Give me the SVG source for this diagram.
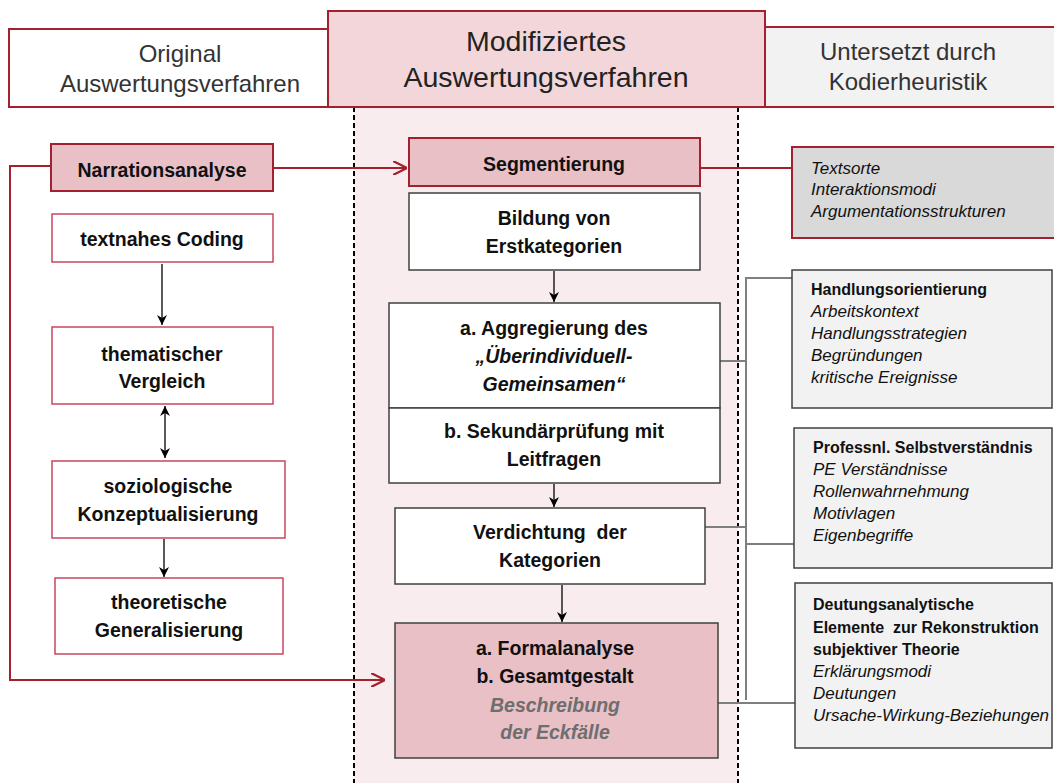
<svg xmlns="http://www.w3.org/2000/svg" width="1054" height="783" viewBox="0 0 1054 783">
<defs>
<style>
.hdr{font-family:"Liberation Sans",Arial,sans-serif;font-size:24px;fill:#333;text-anchor:middle}
.hdrm{font-family:"Liberation Sans",Arial,sans-serif;font-size:28.5px;fill:#222;text-anchor:middle}
.b{font-family:"Liberation Sans",Arial,sans-serif;font-size:19.5px;font-weight:bold;fill:#111;text-anchor:middle}
.bi{font-style:italic}
.gi{font-family:"Liberation Sans",Arial,sans-serif;font-size:19.5px;font-weight:bold;font-style:italic;fill:#6e6e6e;text-anchor:middle}
.r{font-family:"Liberation Sans",Arial,sans-serif;font-size:17px;fill:#111}
.rb{font-weight:bold;font-size:16px}
.ri{font-style:italic}
.redbox{stroke:#A3202F;stroke-width:2}
.lbox{fill:#fff;stroke:#C9465E;stroke-width:1.5}
.gbox{stroke:#404040;stroke-width:1.5}
.pink{fill:#E8C0C6}
.conn{fill:none;stroke:#000;stroke-width:1.3}
.redc{fill:none;stroke:#A3202F;stroke-width:2}
.grayc{fill:none;stroke:#7f7f7f;stroke-width:2}
</style>
<marker id="ah" viewBox="0 0 10 10" refX="10" refY="5" markerWidth="10" markerHeight="10" markerUnits="userSpaceOnUse" orient="auto-start-reverse">
<path d="M0,0 L10,5 L0,10 L3,5 Z" fill="#000"/>
</marker>
<marker id="ahr" viewBox="0 0 10 10" refX="10" refY="5" markerWidth="14" markerHeight="14" markerUnits="userSpaceOnUse" orient="auto">
<path d="M0,0 L10,5 L0,10" fill="none" stroke="#A3202F" stroke-width="1.6"/>
</marker>
</defs>
<rect x="0" y="0" width="1054" height="783" fill="#fff"/>
<rect x="354" y="107" width="384" height="676" fill="#F8ECEE"/>
<g id="dashes">
<line x1="354" y1="107" x2="354" y2="783" stroke="#000" stroke-width="2" stroke-dasharray="5,3"/>
<line x1="738" y1="107" x2="738" y2="783" stroke="#000" stroke-width="2" stroke-dasharray="5,3"/>
</g>
<g id="hdr-left">
<rect x="9" y="29" width="319" height="78" fill="#fff" class="redbox"/>
<text class="hdr" x="180" y="62">Original</text>
<text class="hdr" x="180" y="92">Auswertungsverfahren</text>
</g>
<g id="hdr-right">
<rect x="765" y="27" width="295" height="80" fill="#F2F2F2" class="redbox"/>
<text class="hdr" x="908" y="60">Untersetzt durch</text>
<text class="hdr" x="908" y="90">Kodierheuristik</text>
</g>
<g id="hdr-mid">
<rect x="328" y="11" width="437" height="96" fill="#F2D6DA" class="redbox"/>
<text class="hdrm" x="546" y="51">Modifiziertes</text>
<text class="hdrm" x="546" y="87">Auswertungsverfahren</text>
</g>
<g id="connectors">
<line class="conn" x1="162" y1="264" x2="162" y2="325" marker-end="url(#ah)"/>
<line class="conn" x1="165" y1="406" x2="165" y2="458" marker-start="url(#ah)" marker-end="url(#ah)"/>
<line class="conn" x1="164" y1="539" x2="164" y2="577" marker-end="url(#ah)"/>
<line class="conn" x1="554" y1="271" x2="554" y2="302" marker-end="url(#ah)"/>
<line class="conn" x1="554" y1="484" x2="554" y2="507" marker-end="url(#ah)"/>
<line class="conn" x1="562" y1="585" x2="562" y2="622" marker-end="url(#ah)"/>
<path class="redc" d="M273,168 H407" marker-end="url(#ahr)"/>
<path class="redc" d="M51,166 H10 V680 H385" marker-end="url(#ahr)"/>
<path class="redc" d="M700,168 H792"/>
<path class="grayc" d="M792,278 H746 V700"/>
<path class="grayc" d="M720,361 H746"/>
<path class="grayc" d="M705,527 H746"/>
<path class="grayc" d="M746,544 H794"/>
<path class="grayc" d="M718,703 H795"/>
</g>
<g id="narration">
<rect x="51" y="144" width="222" height="47" class="pink redbox"/>
<text class="b" x="162" y="177">Narrationsanalyse</text>
</g>
<g id="textnahes">
<rect x="52" y="214" width="221" height="48" class="lbox"/>
<text class="b" x="162" y="246">textnahes Coding</text>
</g>
<g id="thematisch">
<rect x="52" y="327" width="221" height="77" class="lbox"/>
<text class="b" x="162" y="361">thematischer</text>
<text class="b" x="162" y="388">Vergleich</text>
</g>
<g id="soziologisch">
<rect x="52" y="461" width="233" height="77" class="lbox"/>
<text class="b" x="168" y="493">soziologische</text>
<text class="b" x="168" y="521">Konzeptualisierung</text>
</g>
<g id="theoretisch">
<rect x="55" y="578" width="228" height="76" class="lbox"/>
<text class="b" x="169" y="609">theoretische</text>
<text class="b" x="169" y="637">Generalisierung</text>
</g>
<g id="segmentierung">
<rect x="409" y="138" width="291" height="48" class="pink redbox"/>
<text class="b" x="554" y="171">Segmentierung</text>
</g>
<g id="bildung">
<rect x="409" y="193" width="291" height="77" fill="#fff" class="gbox"/>
<text class="b" x="554" y="225">Bildung von</text>
<text class="b" x="554" y="253">Erstkategorien</text>
</g>
<g id="aggregierung">
<rect x="389" y="303" width="331" height="105" fill="#fff" class="gbox"/>
<text class="b" x="554" y="335">a. Aggregierung des</text>
<text class="b bi" x="554" y="363">„Überindividuell-</text>
<text class="b bi" x="554" y="391">Gemeinsamen“</text>
</g>
<g id="sekundaer">
<rect x="389" y="408" width="331" height="75" fill="#fff" class="gbox"/>
<text class="b" x="554" y="438">b. Sekundärprüfung mit</text>
<text class="b" x="554" y="466">Leitfragen</text>
</g>
<g id="verdichtung">
<rect x="395" y="508" width="310" height="76" fill="#fff" class="gbox"/>
<text class="b" x="550" y="539" xml:space="preserve">Verdichtung  der</text>
<text class="b" x="550" y="567">Kategorien</text>
</g>
<g id="formal">
<rect x="395" y="623" width="323" height="135" class="pink gbox"/>
<text class="b" x="555" y="655">a. Formalanalyse</text>
<text class="b" x="555" y="683">b. Gesamtgestalt</text>
<text class="gi" x="555" y="712">Beschreibung</text>
<text class="gi" x="555" y="739">der Eckfälle</text>
</g>
<g id="textsorte">
<rect x="792" y="147" width="270" height="91" fill="#D9D9D9" class="redbox"/>
<text class="r ri" x="811" y="174">Textsorte</text>
<text class="r ri" x="811" y="195">Interaktionsmodi</text>
<text class="r ri" x="811" y="217">Argumentationsstrukturen</text>
</g>
<g id="handlung">
<rect x="792" y="270" width="260" height="138" fill="#F2F2F2" class="gbox"/>
<text class="r rb" x="811" y="295">Handlungsorientierung</text>
<text class="r ri" x="811" y="317">Arbeitskontext</text>
<text class="r ri" x="811" y="339">Handlungsstrategien</text>
<text class="r ri" x="811" y="361">Begründungen</text>
<text class="r ri" x="811" y="383">kritische Ereignisse</text>
</g>
<g id="professnl">
<rect x="794" y="428" width="258" height="140" fill="#F2F2F2" class="gbox"/>
<text class="r rb" x="813" y="453">Professnl. Selbstverständnis</text>
<text class="r ri" x="813" y="475">PE Verständnisse</text>
<text class="r ri" x="813" y="497">Rollenwahrnehmung</text>
<text class="r ri" x="813" y="519">Motivlagen</text>
<text class="r ri" x="813" y="541">Eigenbegriffe</text>
</g>
<g id="deutung">
<rect x="795" y="583" width="257" height="165" fill="#F2F2F2" class="gbox"/>
<text class="r rb" x="813" y="610">Deutungsanalytische</text>
<text class="r rb" x="813" y="633" xml:space="preserve">Elemente  zur Rekonstruktion</text>
<text class="r rb" x="813" y="655">subjektiver Theorie</text>
<text class="r ri" x="813" y="677">Erklärungsmodi</text>
<text class="r ri" x="813" y="699">Deutungen</text>
<text class="r ri" x="813" y="721">Ursache-Wirkung-Beziehungen</text>
</g>
</svg>
